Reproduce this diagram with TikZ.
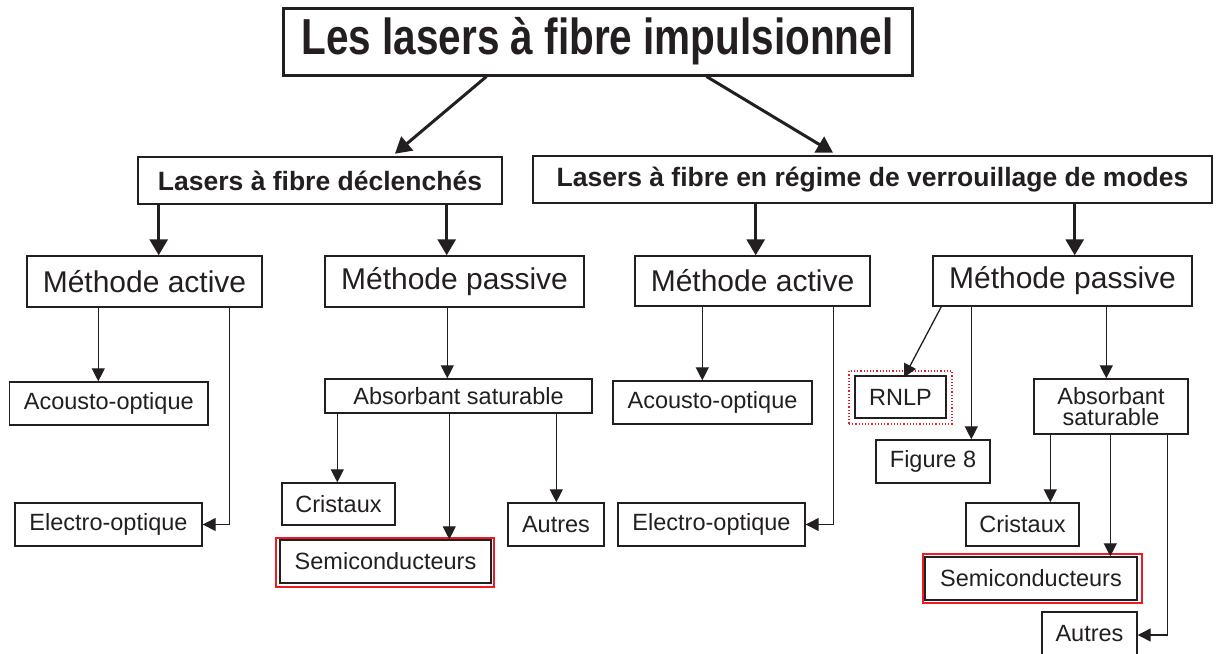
\documentclass[tikz,border=0pt]{standalone}
\usepackage{fontspec}
\setmainfont{Liberation Sans}
\usetikzlibrary{arrows.meta}
\definecolor{ink}{HTML}{231F20}
\definecolor{redframe}{RGB}{237,28,36}
\begin{document}
\begin{tikzpicture}[x=1pt,y=-1pt,
  box/.style={draw=ink, line width=1.4pt, rectangle, inner sep=0pt, text=ink,
    font=\fontsize{23.5}{21.5}\selectfont, align=center},
  mbox/.style={box, font=\fontsize{30}{36}\selectfont},
  hbox/.style={box, line width=2.6pt, font=\fontsize{26.5}{32}\selectfont\bfseries},
  tbox/.style={box, line width=3pt, font=\fontsize{40.5}{48}\selectfont\bfseries},
  arr/.style={draw=ink, line width=1.3pt, -{Triangle[length=13pt,width=13pt]}},
  tarr/.style={draw=ink, line width=3pt, -{Triangle[length=16pt,width=18pt]}},
  redbox/.style={draw=redframe, line width=1.7pt, rectangle, inner sep=0pt},
  reddot/.style={draw=redframe, line width=1.2pt, dotted, rectangle, inner sep=0pt}
]
\useasboundingbox (0,0) rectangle (1220,653);

% title and level 1
\node[tbox, minimum width=629pt, minimum height=67pt] (title) at (597.5,41.5)
  {\raisebox{1pt}{\scalebox{1}[1.25]{Les lasers à fibre impulsionnel}}};
\node[hbox, minimum width=364pt, minimum height=47pt] (l1L) at (320,180.5) {Lasers à fibre déclenchés};
\node[hbox, minimum width=679pt, minimum height=47pt] (l1R) at (872.5,179.5) {Lasers à fibre en régime de verrouillage de modes};

% level 2
\node[mbox, minimum width=235pt, minimum height=51pt] (maL) at (144.5,281.5) {Méthode active};
\node[mbox, minimum width=259pt, minimum height=51pt] (mpL) at (454.5,281.5) {Méthode passive};
\node[mbox, minimum width=235pt, minimum height=50pt] (maR) at (752.5,281) {Méthode active};
\node[mbox, minimum width=259pt, minimum height=50pt] (mpR) at (1062.5,281) {Méthode passive};

% red frames (drawn first)
\node[redbox, minimum width=218pt, minimum height=49pt] (seLf) at (385,562.5) {};
\node[redbox, minimum width=219pt, minimum height=49pt] (seRf) at (1032.5,578.5) {};
\node[reddot, minimum width=103pt, minimum height=53pt] (rnlpf) at (900.5,397.5) {};

% level 3 left
\node[box, minimum width=198.5pt, minimum height=43pt] (acL) at (108.75,403.5) {Acousto-optique};
\node[box, minimum width=187pt, minimum height=43pt] (elL) at (108.5,524.5) {Electro-optique};
\node[box, minimum width=267pt, minimum height=34pt] (asL) at (458.5,396) {Absorbant saturable};
\node[box, minimum width=113pt, minimum height=42pt] (crL) at (338.5,504) {Cristaux};
\node[box, minimum width=211pt, minimum height=43pt] (seL) at (385.5,561.5) {Semiconducteurs};
\node[box, minimum width=96pt, minimum height=43pt] (auL) at (556,524.5) {Autres};

% level 3 right
\node[box, minimum width=199pt, minimum height=43pt] (acR) at (712.5,402.5) {Acousto-optique};
\node[box, minimum width=187pt, minimum height=43pt] (elR) at (711.5,524.5) {Electro-optique};
\node[box, minimum width=91pt, minimum height=42pt] (rnlp) at (900.5,397) {RNLP};
\node[box, minimum width=114pt, minimum height=43pt] (fig8) at (933,461.5) {Figure 8};
\node[box, minimum width=154pt, minimum height=55pt] (asR) at (1111,406.5) {Absorbant\\saturable};
\node[box, minimum width=113pt, minimum height=43pt] (crR) at (1022.5,524.5) {Cristaux};
\node[box, minimum width=212pt, minimum height=43pt] (seR) at (1031,578.5) {Semiconducteurs};
\node[box, minimum width=95pt, minimum height=43pt] (auR) at (1089.5,633.5) {Autres};

% title arrows
\coordinate (t1) at ([xshift=205pt]title.south west);
\coordinate (t2) at ([xshift=425pt]title.south west);
\draw[tarr] (t1) -- ([xshift=75pt,yshift=2pt]l1L.north);
\draw[tarr] (t2) -- ([xshift=-39.5pt,yshift=2pt]l1R.north);

% level 1 -> level 2
\coordinate (h1) at ([xshift=22pt]l1L.south west);
\coordinate (h2) at ([xshift=310pt]l1L.south west);
\coordinate (h3) at ([xshift=224pt]l1R.south west);
\coordinate (h4) at ([xshift=543pt]l1R.south west);
\draw[tarr] (h1) -- (h1 |- maL.north);
\draw[tarr] (h2) -- (h2 |- mpL.north);
\draw[tarr] (h3) -- (h3 |- maR.north);
\draw[tarr] (h4) -- (h4 |- mpR.north);

% left active
\coordinate (a1) at ([xshift=72pt]maL.south west);
\coordinate (a2) at ([xshift=203pt]maL.south west);
\draw[arr] (a1) -- (a1 |- acL.north);
\draw[arr] (a2) |- (elL.east);

% left passive
\coordinate (p1) at ([xshift=123pt]mpL.south west);
\draw[arr] (p1) -- (p1 |- asL.north);
\coordinate (s1) at ([xshift=13pt]asL.south west);
\coordinate (s2) at ([xshift=125pt]asL.south west);
\coordinate (s3) at ([xshift=232pt]asL.south west);
\draw[arr] (s1) -- (s1 |- crL.north);
\draw[arr] (s2) -- (s2 |- seL.north);
\draw[arr] (s3) -- (s3 |- auL.north);

% right active
\coordinate (b1) at ([xshift=68pt]maR.south west);
\coordinate (b2) at ([xshift=199pt]maR.south west);
\draw[arr] (b1) -- (b1 |- acR.north);
\draw[arr] (b2) |- (elR.east);

% right passive
\coordinate (q1) at ([xshift=9pt]mpR.south west);
\coordinate (q2) at ([xshift=39pt]mpR.south west);
\coordinate (q3) at ([xshift=174pt]mpR.south west);
\draw[arr] (q1) -- ([xshift=3.5pt,yshift=-2pt]rnlp.north);
\draw[arr] (q2) -- (q2 |- fig8.north);
\draw[arr] (q3) -- (q3 |- asR.north);
\coordinate (r1) at ([xshift=17pt]asR.south west);
\coordinate (r2) at ([xshift=77pt]asR.south west);
\coordinate (r3) at ([xshift=134pt]asR.south west);
\draw[arr] (r1) -- (r1 |- crR.north);
\draw[arr] (r2) -- (r2 |- seR.north);
\draw[arr] (r3) |- ([yshift=-1.5pt]auR.east);
\end{tikzpicture}
\end{document}
